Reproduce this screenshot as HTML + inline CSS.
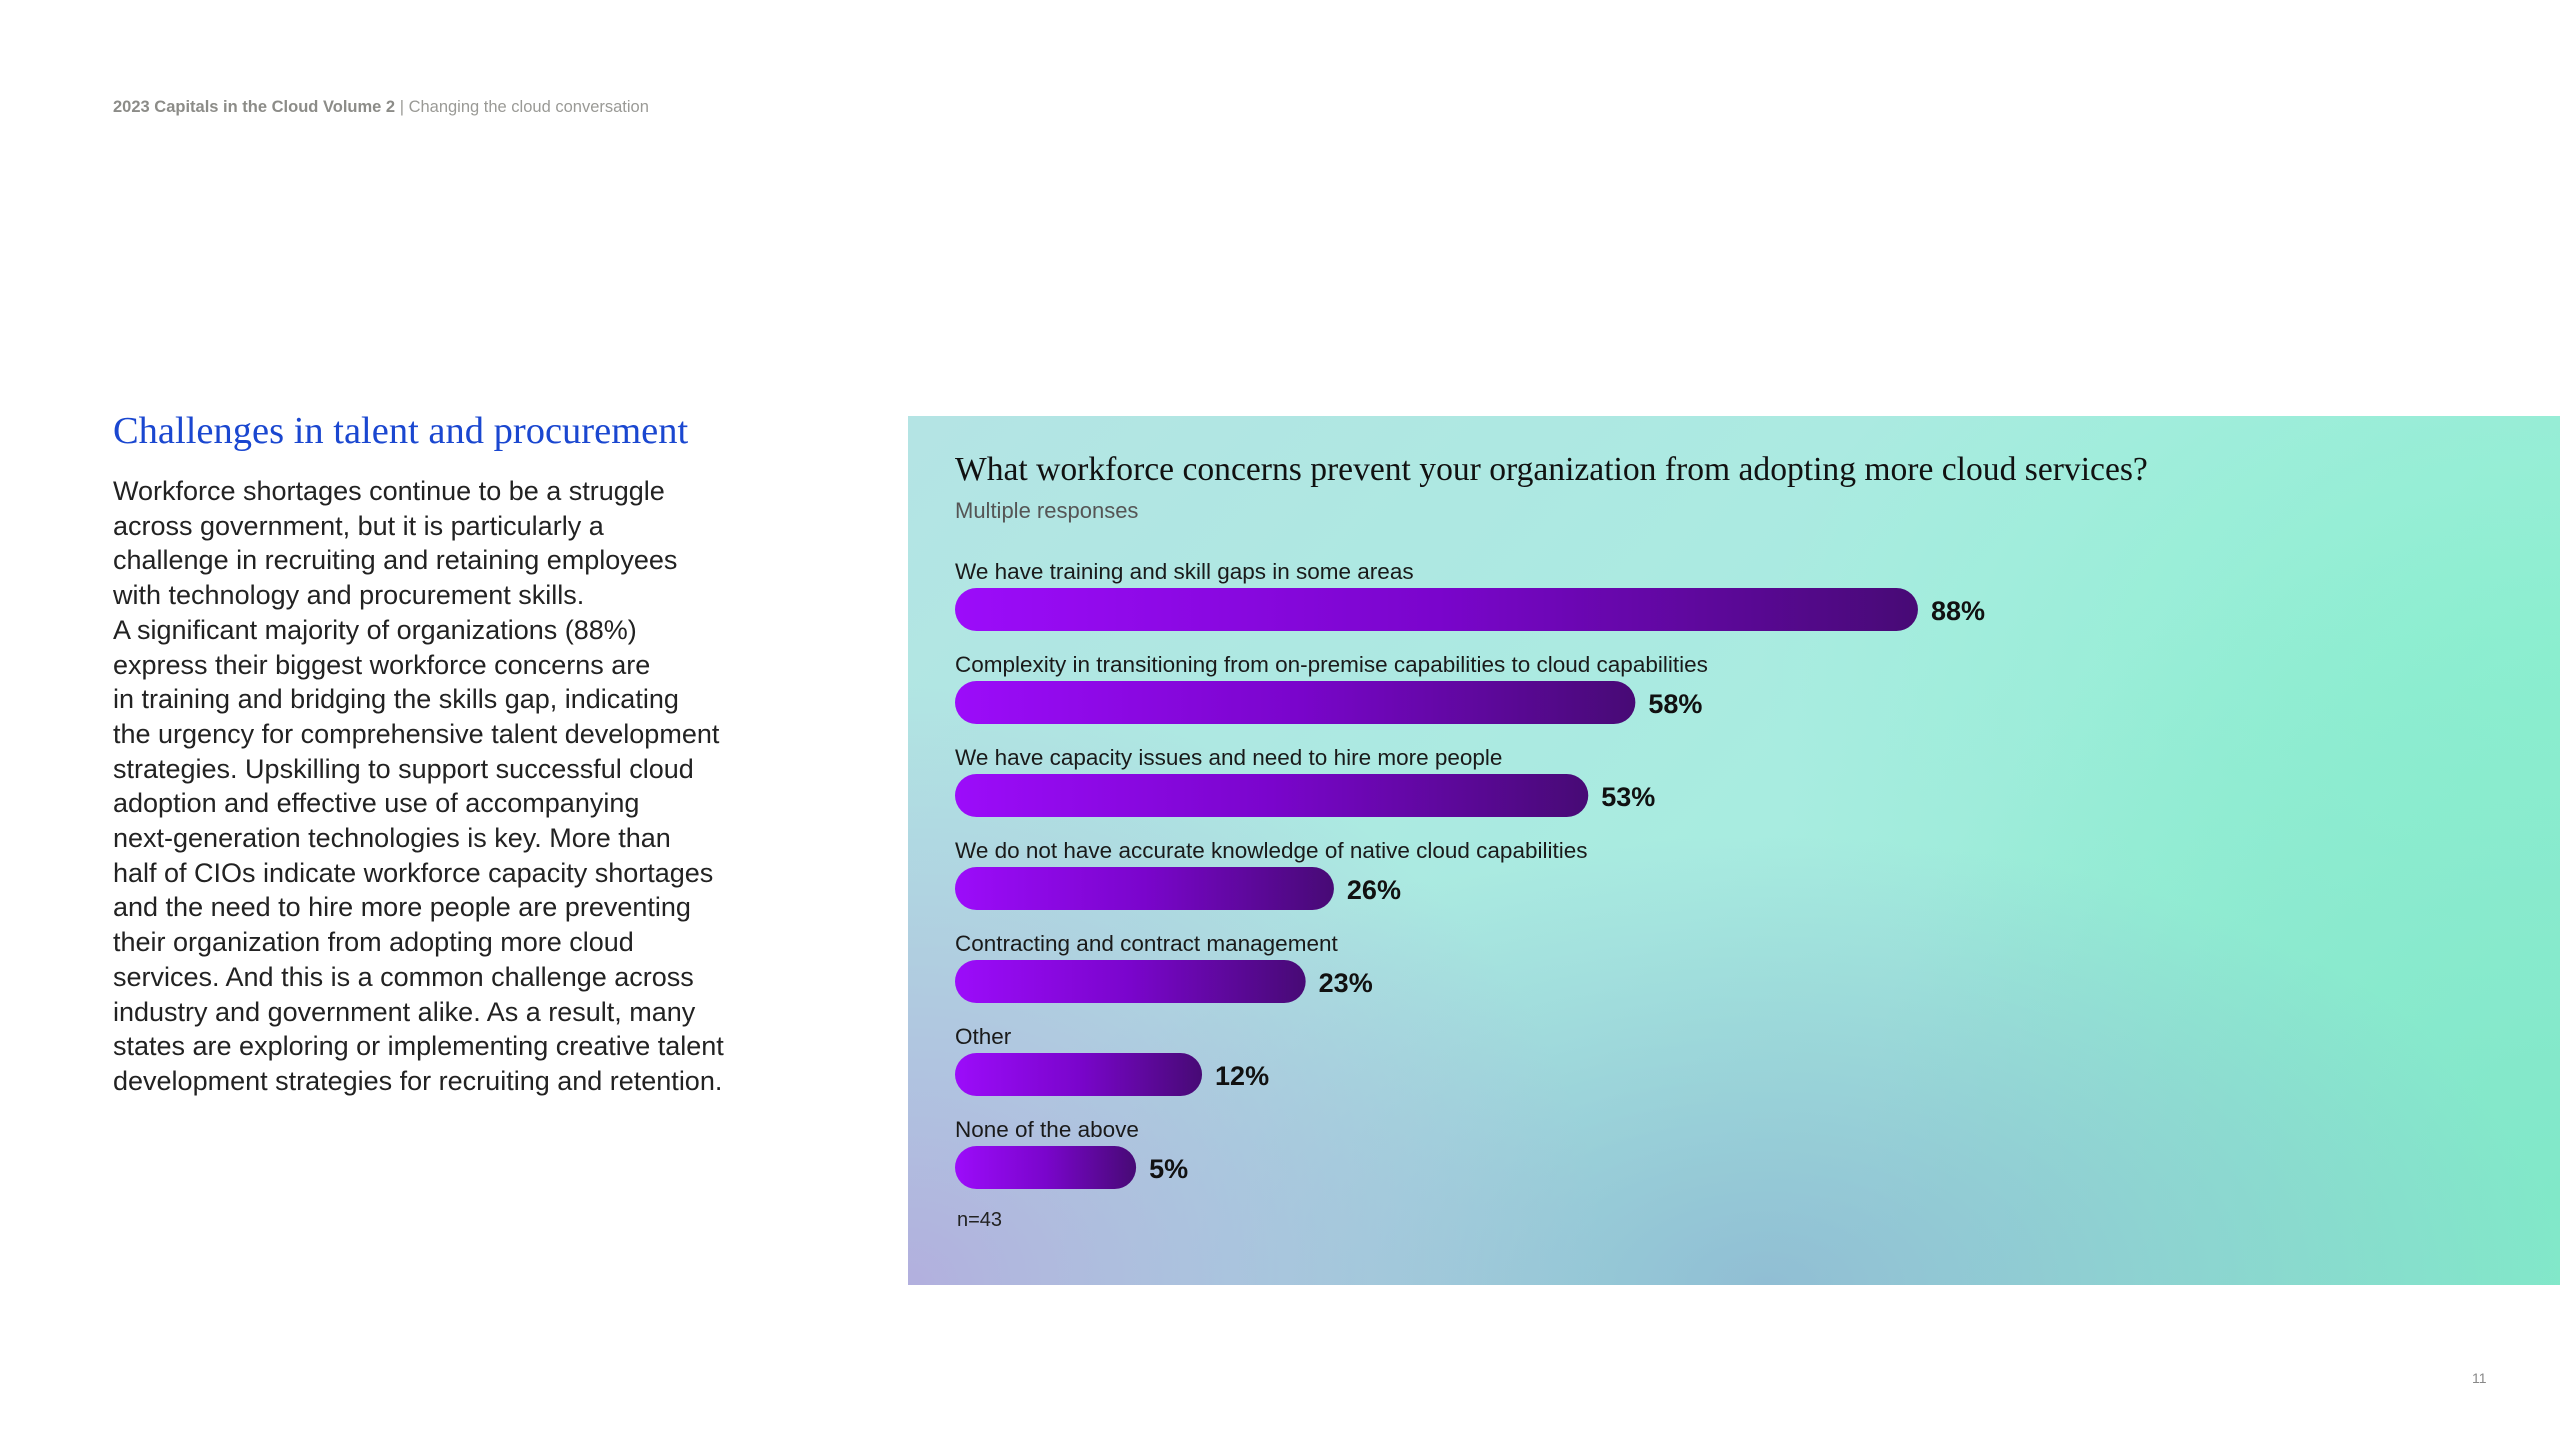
<!DOCTYPE html>
<html><head><meta charset="utf-8">
<style>
html,body{margin:0;padding:0;}
body{width:2560px;height:1440px;position:relative;background:#fff;overflow:hidden;font-family:"Liberation Sans",sans-serif;}
.hdr{position:absolute;left:113px;top:98px;font-size:16.5px;color:#9a9a96;}
.hdr b{color:#8c8c88;}
.h2{position:absolute;left:113px;top:409px;font-family:"Liberation Serif",serif;font-size:38.5px;color:#1a47d0;}
.para{position:absolute;left:113px;top:474px;font-size:27px;line-height:34.7px;color:#222;}
.panel{position:absolute;left:908px;top:416px;width:1652px;height:869px;
background:
radial-gradient(ellipse 700px 600px at 0% 100%, rgba(178,172,222,0.95), rgba(178,172,222,0) 100%),
radial-gradient(ellipse 800px 450px at 52% 100%, rgba(140,175,210,0.75), rgba(140,175,210,0) 100%),
radial-gradient(ellipse 700px 700px at 100% 90%, rgba(128,232,200,0.95), rgba(128,232,200,0) 100%),
radial-gradient(ellipse 800px 500px at 100% 30%, rgba(140,240,208,0.9), rgba(140,240,208,0) 100%),
linear-gradient(135deg,#b4e4e4 0%,#a8ece0 50%,#8ee8d0 100%);}
.ptitle{position:absolute;left:955px;top:451px;font-family:"Liberation Serif",serif;font-size:33.6px;color:#111;}
.psub{position:absolute;left:955px;top:498px;font-size:22px;color:#555;}
.n{position:absolute;left:957px;top:1209px;font-size:20px;color:#222;}
.pg{position:absolute;left:2472px;top:1370px;font-size:14px;color:#888;}
#chart{position:absolute;left:0;top:0;}
</style></head><body>
<div class="hdr"><b>2023 Capitals in the Cloud Volume 2</b> | Changing the cloud conversation</div>
<div class="h2">Challenges in talent and procurement</div>
<div class="para">Workforce shortages continue to be a struggle<br>across government, but it is particularly a<br>challenge in recruiting and retaining employees<br>with technology and procurement skills.<br>A significant majority of organizations (88%)<br>express their biggest workforce concerns are<br>in training and bridging the skills gap, indicating<br>the urgency for comprehensive talent development<br>strategies. Upskilling to support successful cloud<br>adoption and effective use of accompanying<br>next-generation technologies is key. More than<br>half of CIOs indicate workforce capacity shortages<br>and the need to hire more people are preventing<br>their organization from adopting more cloud<br>services. And this is a common challenge across<br>industry and government alike. As a result, many<br>states are exploring or implementing creative talent<br>development strategies for recruiting and retention.</div>
<div class="panel"></div>
<div class="ptitle">What workforce concerns prevent your organization from adopting more cloud services?</div>
<div class="psub">Multiple responses</div>
<svg id="chart" width="2560" height="1440">
<defs><linearGradient id="bg" x1="0" x2="1" y1="0" y2="0"><stop offset="0" stop-color="#9c0cfa"/><stop offset="0.5" stop-color="#7a05cc"/><stop offset="1" stop-color="#470a75"/></linearGradient></defs>
</svg>
<div class="n">n=43</div>
<div class="pg">11</div>
<script>
const categories=["We have training and skill gaps in some areas","Complexity in transitioning from on-premise capabilities to cloud capabilities","We have capacity issues and need to hire more people","We do not have accurate knowledge of native cloud capabilities","Contracting and contract management","Other","None of the above"];
const values=[88,58,53,26,23,12,5];
const valueLabels=["88%","58%","53%","26%","23%","12%","5%"];
const svg=document.getElementById('chart');
const NS='http://www.w3.org/2000/svg';
const x0=955, barH=43;
function xw(v){return 134+9.42*v;}
function yRow(i){return 571+i*93;}
categories.forEach((c,i)=>{
  const y=yRow(i), w=xw(values[i]);
  const t=document.createElementNS(NS,'text');
  t.setAttribute('x',x0);t.setAttribute('y',y+8);t.setAttribute('font-size','22.5');t.setAttribute('fill','#1a1a1a');
  t.setAttribute('font-family','Liberation Sans, sans-serif');t.textContent=c;
  
  
  svg.appendChild(t);
  const r=document.createElementNS(NS,'rect');
  r.setAttribute('x',x0);r.setAttribute('y',y+17);r.setAttribute('width',w);r.setAttribute('height',barH);
  r.setAttribute('rx',21.5);r.setAttribute('fill','url(#bg)');
  
  
  svg.appendChild(r);
  const v=document.createElementNS(NS,'text');
  v.setAttribute('x',x0+w+13);v.setAttribute('y',y+49);v.setAttribute('font-size','27');v.setAttribute('font-weight','bold');
  v.setAttribute('fill','#111');v.setAttribute('font-family','Liberation Sans, sans-serif');v.textContent=valueLabels[i];
  
  
  svg.appendChild(v);
});
</script>
</body></html>
